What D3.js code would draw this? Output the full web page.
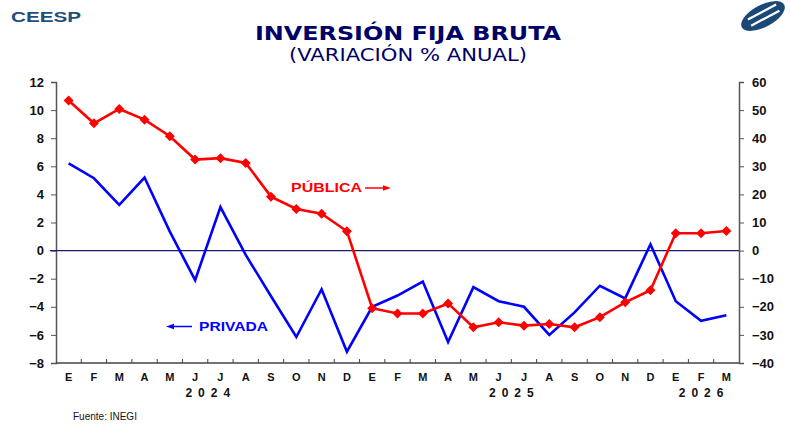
<!DOCTYPE html>
<html>
<head>
<meta charset="utf-8">
<script src="https://cdn.jsdelivr.net/npm/d3@7"></script>
<style>
  body { margin: 0; background: #fff; }
  svg { display: block; }
</style>
</head>
<body>
<svg width="790" height="424"></svg>
<script>
// meses (ene 2024 - mar 2026)
var months = ["E","F","M","A","M","J","J","A","S","O","N","D",
              "E","F","M","A","M","J","J","A","S","O","N","D",
              "E","F","M"];
var years = [{label: "2024", at: 6}, {label: "2025", at: 18}, {label: "2026", at: 25.5}];

// variacion % anual, eje izquierdo
var privada = [6.2, 5.15, 3.25, 5.2, 1.35, -2.1, 3.1, -0.3, -3.25, -6.15, -2.75, -7.2,
               -4.0, -3.2, -2.2, -6.5, -2.6, -3.6, -4.0, -6.0, -4.4, -2.5, -3.4, 0.45,
               -3.6, -5.0, -4.6];
// variacion % anual, eje derecho
var publica = [53.4, 45.3, 50.4, 46.6, 40.7, 32.4, 32.9, 31.2, 19.2, 14.8, 13.1, 6.9,
               -20.5, -22.4, -22.4, -18.8, -27.3, -25.5, -26.7, -26.1, -27.3, -23.7, -18.4, -14.1,
               6.2, 6.2, 7.0];

var leftTicks = d3.range(-8, 13, 2);
var rightTicks = d3.range(-40, 61, 10);

var svg = d3.select("svg");
var plotLeft = 56, plotRight = 739, plotTop = 82, plotBottom = 363;
var arial = "Arial, 'Liberation Sans', sans-serif";

var idx = d3.range(months.length);
var x = d3.scaleBand().domain(idx).range([plotLeft, plotRight]);
var yL = d3.scaleLinear().domain([-8, 12]).range([plotBottom, plotTop]);
var yR = d3.scaleLinear().domain([-40, 60]).range([plotBottom, plotTop]);
var cx = function(i) { return x(i) + x.bandwidth() / 2; };

// cabecera
svg.append("text").attr("x", 11).attr("y", 22)
  .attr("font-family", arial).attr("font-weight", "bold")
  .attr("font-size", 14).attr("textLength", 70).attr("lengthAdjust", "spacingAndGlyphs")
  .attr("fill", "#1f4e7a").text("CEESP");

var logo = svg.append("g").attr("transform", "translate(763,16) rotate(-28)");
logo.append("ellipse").attr("rx", 24).attr("ry", 11).attr("fill", "#1b4876");
[-4, 3].forEach(function(o) {
  logo.append("line").attr("x1", -15).attr("x2", 17).attr("y1", o).attr("y2", o)
    .attr("stroke", "#fff").attr("stroke-width", 2.2);
});

svg.append("text").attr("x", 408).attr("y", 40).attr("text-anchor", "middle")
  .attr("font-family", "'DejaVu Sans', sans-serif").attr("font-weight", "bold")
  .attr("font-size", 20).attr("textLength", 306).attr("lengthAdjust", "spacingAndGlyphs")
  .attr("fill", "#000066").text("INVERSIÓN FIJA BRUTA");
svg.append("text").attr("x", 408).attr("y", 61).attr("text-anchor", "middle")
  .attr("font-family", "'DejaVu Sans', sans-serif")
  .attr("font-size", 18).attr("textLength", 238).attr("lengthAdjust", "spacingAndGlyphs")
  .attr("fill", "#000066").text("(VARIACIÓN % ANUAL)");

// ejes
var axisL = d3.axisLeft(yL).tickValues(leftTicks).tickSize(5).tickFormat(d3.format("d"));
var axisR = d3.axisRight(yR).tickValues(rightTicks).tickSize(5).tickFormat(d3.format("d"));

var gL = svg.append("g").attr("transform", "translate(" + plotLeft + ",0)").call(axisL);
var gR = svg.append("g").attr("transform", "translate(" + plotRight + ",0)").call(axisR);
[gL, gR].forEach(function(g) {
  g.select(".domain").attr("stroke", "#555").attr("stroke-width", 1.5);
  g.selectAll(".tick line").attr("stroke", "#555");
  g.selectAll("text").attr("font-family", arial)
    .attr("font-weight", "bold").attr("font-size", 13).attr("fill", "#111");
});
gL.selectAll("text").attr("x", -12);
gR.selectAll("text").attr("x", 13);

// eje x
svg.append("line").attr("x1", plotLeft).attr("x2", plotRight).attr("y1", plotBottom).attr("y2", plotBottom)
  .attr("stroke", "#444").attr("stroke-width", 1.5);
svg.selectAll(".xtick").data(d3.range(1, months.length)).enter().append("line")
  .attr("x1", function(d) { return x(d); }).attr("x2", function(d) { return x(d); })
  .attr("y1", plotBottom).attr("y2", plotBottom - 4).attr("stroke", "#444");
svg.selectAll(".mlab").data(months).enter().append("text")
  .attr("x", function(d, i) { return cx(i); }).attr("y", 381).attr("text-anchor", "middle")
  .attr("font-family", arial).attr("font-weight", "bold")
  .attr("font-size", 11).attr("fill", "#111").text(function(d) { return d; });
svg.selectAll(".ylab").data(years).enter().append("text")
  .attr("x", function(d) { return plotLeft + x.step() * d.at + 3; }).attr("y", 397)
  .attr("text-anchor", "middle").attr("letter-spacing", 6)
  .attr("font-family", arial).attr("font-weight", "bold")
  .attr("font-size", 12).attr("fill", "#111").text(function(d) { return d.label; });

// linea cero
svg.append("line").attr("x1", plotLeft - 6).attr("x2", plotRight).attr("y1", yL(0)).attr("y2", yL(0))
  .attr("stroke", "#1a1a6e").attr("stroke-width", 1.2);

// series
var lineL = d3.line().x(function(d, i) { return cx(i); }).y(function(d) { return yL(d); });
var lineR = d3.line().x(function(d, i) { return cx(i); }).y(function(d) { return yR(d); });

svg.append("path").datum(privada).attr("d", lineL).attr("fill", "none")
  .attr("stroke", "#0000ff").attr("stroke-width", 2.6).attr("stroke-linejoin", "miter");
svg.append("path").datum(publica).attr("d", lineR).attr("fill", "none")
  .attr("stroke", "#ff0000").attr("stroke-width", 2.6);
svg.selectAll(".mk").data(publica).enter().append("path")
  .attr("d", d3.symbol(d3.symbolSquare, 50))
  .attr("transform", function(d, i) { return "translate(" + cx(i) + "," + yR(d) + ") rotate(45)"; })
  .attr("fill", "#ff0000");

// etiquetas
var lab = function(t, xx, yy, w, c) {
  svg.append("text").attr("x", xx).attr("y", yy)
    .attr("font-family", arial).attr("font-weight", "bold")
    .attr("font-size", 12).attr("textLength", w).attr("lengthAdjust", "spacingAndGlyphs")
    .attr("fill", c).text(t);
};
lab("PÚBLICA", 291, 192, 71, "#ff0000");
svg.append("line").attr("x1", 365).attr("x2", 385).attr("y1", 188).attr("y2", 188)
  .attr("stroke", "#ff0000").attr("stroke-width", 1.5);
svg.append("path").attr("d", "M391,188 L383,185.3 L383,190.7 Z").attr("fill", "#ff0000");

lab("PRIVADA", 199, 330.5, 69, "#0000ff");
svg.append("line").attr("x1", 173).attr("x2", 192).attr("y1", 326.5).attr("y2", 326.5)
  .attr("stroke", "#0000ff").attr("stroke-width", 1.5);
svg.append("path").attr("d", "M166,326.5 L174,323.8 L174,329.2 Z").attr("fill", "#0000ff");

svg.append("text").attr("x", 73).attr("y", 420)
  .attr("font-family", arial)
  .attr("font-size", 10).attr("fill", "#111").text("Fuente: INEGI");
</script>
</body>
</html>
